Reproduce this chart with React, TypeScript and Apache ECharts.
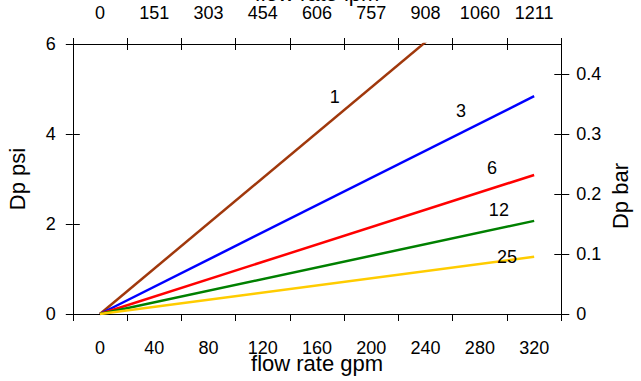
import React, { useEffect, useRef } from "react";
import * as echarts from "echarts";

const curveNames = ["1", "3", "6", "12", "25"];
const curveColors = ["#a0380c", "#0000ff", "#ff0000", "#008000", "#ffcc00"];
const gpmStart = [0, 0, 0, 0, 0];
const gpmEnd = [320, 320, 320, 320, 320];
const psiEnd = [8.06, 4.84, 3.09, 2.07, 1.27];
const labelGpm = [173, 266, 289, 294, 300];
const labelPsi = [4.83, 4.52, 3.24, 2.31, 1.26];

const gpmTicks = [-20, 20, 60, 100, 140, 180, 220, 260, 300, 340];
const gpmLabels = [0, 40, 80, 120, 160, 200, 240, 280, 320];
const lpmLabels = ["0", "151", "303", "454", "606", "757", "908", "1060", "1211"];
const barTicks = [0, 0.1, 0.2, 0.3, 0.4];

const FONT = "'Liberation Sans', Arial, sans-serif";

export default function App() {
  const ref = useRef<HTMLDivElement>(null);
  useEffect(() => {
    if (!ref.current) return;
    const chart = echarts.init(ref.current, null, { renderer: "svg" });
    const lineStyle = { color: "#000", width: 1 };
    const hidden = { show: false };
    const series: any[] = curveNames.map((n, i) => ({
      type: "line",
      name: n,
      xAxisIndex: 0,
      yAxisIndex: 0,
      showSymbol: false,
      symbol: "none",
      clip: true,
      lineStyle: { color: curveColors[i], width: 2.5 },
      data: [
        [gpmStart[i], 0],
        [gpmEnd[i], psiEnd[i]],
      ],
      z: 2,
    }));
    series.push({
      type: "scatter",
      xAxisIndex: 0,
      yAxisIndex: 0,
      symbolSize: 0,
      silent: true,
      itemStyle: { opacity: 1 },
      data: curveNames.map((n, i) => ({ value: [labelGpm[i], labelPsi[i]], name: n })),
      label: {
        show: true,
        position: "inside",
        formatter: (p: any) => p.name,
        color: "#000",
        opacity: 1,
        textBorderWidth: 0,
        fontSize: 18,
        fontFamily: FONT,
      },
      z: 5,
    });
    chart.setOption({
      animation: false,
      textStyle: { fontFamily: FONT },
      grid: {
        left: 72.8,
        right: 79.7,
        top: 44,
        bottom: 67,
        containLabel: false,
        outerBoundsMode: "none",
      },
      xAxis: [
        {
          type: "value",
          position: "bottom",
          min: -20,
          max: 340,
          axisLine: { show: true, onZero: false, lineStyle },
          axisTick: { show: true, length: 7, customValues: gpmTicks, lineStyle },
          axisLabel: { customValues: gpmLabels, fontSize: 18, color: "#000", margin: 25 },
          splitLine: hidden,
          name: "flow rate gpm",
          nameLocation: "middle",
          nameGap: 38,
          nameMoveOverlap: false,
          nameTextStyle: { fontSize: 22, color: "#000" },
        },
        {
          type: "value",
          position: "top",
          min: -20,
          max: 340,
          axisLine: { show: true, onZero: false, lineStyle },
          axisTick: { show: true, length: 6, customValues: gpmTicks, lineStyle },
          axisLabel: {
            customValues: gpmLabels,
            fontSize: 18,
            color: "#000",
            margin: 22,
            formatter: (v: number) => {
              const idx = gpmLabels.indexOf(Math.round(v));
              return idx >= 0 ? lpmLabels[idx] : "";
            },
          },
          splitLine: hidden,
          name: "flow rate lpm",
          nameLocation: "middle",
          nameGap: 40,
          nameMoveOverlap: false,
          nameTextStyle: { fontSize: 22, color: "#000" },
        },
        {
          type: "value",
          position: "top",
          min: -20,
          max: 340,
          axisLine: { show: false, onZero: false },
          axisTick: { show: true, inside: true, length: 6, customValues: gpmTicks, lineStyle },
          axisLabel: hidden,
          splitLine: hidden,
        },
      ],
      yAxis: [
        {
          type: "value",
          position: "left",
          min: 0,
          max: 6,
          interval: 2,
          axisLine: { show: true, onZero: false, lineStyle },
          axisTick: { show: true, length: 7, lineStyle },
          axisLabel: { fontSize: 18, color: "#000", margin: 17 },
          splitLine: hidden,
          name: "Dp psi",
          nameLocation: "middle",
          nameGap: 44,
          nameRotate: 90,
          nameMoveOverlap: false,
          nameTextStyle: { fontSize: 22, color: "#000" },
        },
        {
          type: "value",
          position: "left",
          min: 0,
          max: 6,
          interval: 2,
          axisLine: { show: false, onZero: false },
          axisTick: { show: true, inside: true, length: 7, lineStyle },
          axisLabel: hidden,
          splitLine: hidden,
        },
        {
          type: "value",
          position: "right",
          min: 0,
          max: 0.45,
          axisLine: { show: true, onZero: false, lineStyle },
          axisTick: { show: true, length: 8, customValues: barTicks, lineStyle },
          axisLabel: { customValues: barTicks, fontSize: 18, color: "#000", margin: 15 },
          splitLine: hidden,
        },
        {
          type: "value",
          position: "right",
          min: 0,
          max: 0.45,
          axisLine: { show: false, onZero: false },
          axisTick: { show: true, inside: true, length: 7, customValues: barTicks, lineStyle },
          axisLabel: hidden,
          splitLine: hidden,
        },
      ],
      graphic: [
        {
          type: "text",
          x: 620,
          y: 196,
          rotation: Math.PI / 2,
          style: {
            text: "Dp bar",
            fontSize: 22,
            fontFamily: FONT,
            fill: "#000",
            align: "center",
            verticalAlign: "middle",
          },
        },
      ],
      series,
    });
    return () => chart.dispose();
  }, []);
  return (
    <div
      ref={ref}
      style={{ position: "fixed", left: 0, top: 0, width: 641, height: 381, background: "#fff" }}
    />
  );
}
